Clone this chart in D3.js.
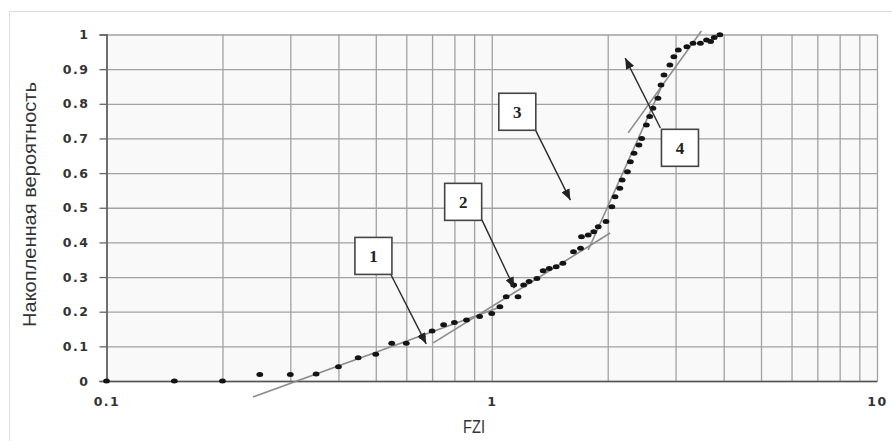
<!DOCTYPE html>
<html>
<head>
  <meta charset="utf-8" />
  <title>FZI probability plot</title>
  <script src="https://cdn.jsdelivr.net/npm/d3@7"></script>
  <style>
    body { margin: 0; background: #fff; }
    svg { display: block; }
    .tick-label { font-family: "DejaVu Sans", sans-serif; font-weight: bold; font-size: 12.5px; letter-spacing: 1.5px; fill: #333; }
    .title { font-family: "Liberation Sans", Arial, sans-serif; font-size: 18px; fill: #333; }
    .box-label { font-family: "Liberation Serif", "Times New Roman", serif; font-weight: bold; font-size: 17px; fill: #222; }
  </style>
</head>
<body>
  <svg id="chart" width="892" height="441"></svg>
  <script>
    // cumulative probability vs FZI
    const fzi = [0.1, 0.15, 0.2, 0.25, 0.3, 0.35, 0.4, 0.45, 0.5, 0.55, 0.6, 0.66, 0.7, 0.75, 0.8, 0.86, 0.93, 1.0,
      1.05, 1.09, 1.14, 1.17, 1.21, 1.25, 1.31, 1.36, 1.41, 1.47, 1.53, 1.63, 1.7, 1.71, 1.78, 1.84, 1.89, 1.98,
      2.05, 2.09, 2.15, 2.18, 2.25, 2.29, 2.34, 2.41, 2.45, 2.52, 2.57, 2.62, 2.7, 2.75, 2.8, 2.9, 2.97, 3.05,
      3.21, 3.33, 3.48, 3.61, 3.7, 3.78, 3.91];
    const prob = [0, 0, 0, 0.019, 0.019, 0.02, 0.041, 0.067, 0.077, 0.109, 0.109, 0.128, 0.144, 0.162, 0.169, 0.176, 0.186, 0.195,
      0.214, 0.243, 0.277, 0.243, 0.277, 0.287, 0.296, 0.318, 0.325, 0.33, 0.34, 0.373, 0.383, 0.416, 0.421, 0.431, 0.445, 0.46,
      0.503, 0.532, 0.556, 0.58, 0.604, 0.633, 0.657, 0.681, 0.7, 0.739, 0.763, 0.787, 0.816, 0.854, 0.883, 0.912, 0.936, 0.955,
      0.965, 0.975, 0.975, 0.984, 0.98, 0.991, 0.999];

    // straight line fits for the four flow units
    const fitFziStart = [0.24, 0.705, 1.78, 2.26];
    const fitProbStart = [-0.046, 0.11, 0.378, 0.716];
    const fitFziEnd = [1.052, 2.03, 2.77, 3.5];
    const fitProbEnd = [0.2136, 0.427, 0.854, 1.01];

    // numbered callouts
    const boxLabels = ["1", "2", "3", "4"];
    const boxFzi = [0.493, 0.843, 1.165, 3.08];
    const boxProb = [0.361, 0.517, 0.777, 0.673];
    const arrowFziFrom = [0.548, 0.943, 1.302, 2.74];
    const arrowProbFrom = [0.306, 0.465, 0.722, 0.73];
    const arrowFziTo = [0.676, 1.144, 1.6, 2.22];
    const arrowProbTo = [0.107, 0.268, 0.522, 0.932];

    const yTicks = [0, 0.1, 0.2, 0.3, 0.4, 0.5, 0.6, 0.7, 0.8, 0.9, 1];
    const yTickLabels = ["0", "0.1", "0.2", "0.3", "0.4", "0.5", "0.6", "0.7", "0.8", "0.9", "1"];
    const xLabelTicks = [0.1, 1, 10];
    const xTickLabels = ["0.1", "1", "10"];

    var margin = { top: 34.5, left: 106.5 },
      width = 770.5,
      height = 346.5;

    var root = d3.select("svg#chart");

    // outer frame
    root.append("rect")
      .attr("x", 9.5).attr("y", 11.5)
      .attr("width", 900).attr("height", 450)
      .attr("fill", "#fff").attr("stroke", "#dcdcdc");

    var svg = root.append("g")
      .attr("transform", "translate(" + margin.left + "," + margin.top + ")");

    var x = d3.scaleLog().domain([0.1, 10]).range([0, width]);
    var y = d3.scaleLinear().domain([0, 1]).range([height, 0]);

    svg.append("rect")
      .attr("width", width).attr("height", height)
      .attr("fill", "#f9f9f9");

    // vertical grid
    svg.append("g")
      .attr("transform", "translate(0," + height + ")")
      .call(d3.axisBottom(x).tickValues(x.ticks()).tickSize(-height).tickFormat(""))
      .call(g => g.select(".domain").remove())
      .selectAll("line").attr("stroke", "#a2a2a2").attr("stroke-width", 1.3);

    // horizontal grid + outside ticks
    svg.append("g")
      .call(d3.axisLeft(y).tickValues(yTicks).tickSizeInner(-width).tickSizeOuter(0).tickFormat(""))
      .call(g => g.select(".domain").remove())
      .selectAll("line").attr("stroke", "#a2a2a2").attr("stroke-width", 1.3);

    var yAxis = svg.append("g")
      .call(d3.axisLeft(y).tickValues(yTicks).tickSize(7).tickPadding(10)
        .tickFormat((d, i) => yTickLabels[i]));
    yAxis.select(".domain").attr("stroke", "#555").attr("stroke-width", 1.5);
    yAxis.selectAll("line").attr("stroke", "#666").attr("stroke-width", 1.3);
    yAxis.selectAll("text").attr("class", "tick-label").attr("font-size", null).attr("font-family", null);

    var xAxis = svg.append("g")
      .attr("transform", "translate(0," + height + ")")
      .call(d3.axisBottom(x).tickValues(xLabelTicks).tickSize(0).tickPadding(16)
        .tickFormat((d, i) => xTickLabels[i]));
    xAxis.select(".domain").attr("stroke", "#555").attr("stroke-width", 1.5);
    xAxis.selectAll("text").attr("class", "tick-label").attr("font-size", null).attr("font-family", null);

    // fit lines
    svg.selectAll("line.fit")
      .data(fitFziStart)
      .enter()
      .append("line")
      .attr("class", "fit")
      .attr("x1", (d, i) => x(fitFziStart[i]))
      .attr("y1", (d, i) => y(fitProbStart[i]))
      .attr("x2", (d, i) => x(fitFziEnd[i]))
      .attr("y2", (d, i) => y(fitProbEnd[i]))
      .attr("stroke", "#8c8c8c")
      .attr("stroke-width", 1.6);

    // data points
    svg.selectAll("ellipse.pt")
      .data(fzi)
      .enter()
      .append("ellipse")
      .attr("class", "pt")
      .attr("cx", (d) => x(d))
      .attr("cy", (d, i) => y(prob[i]))
      .attr("rx", 3.4)
      .attr("ry", 2.5)
      .attr("fill", "#141414");

    // arrows
    root.append("defs").append("marker")
      .attr("id", "head")
      .attr("markerUnits", "userSpaceOnUse")
      .attr("viewBox", "0 0 10 8")
      .attr("markerWidth", 11).attr("markerHeight", 9)
      .attr("refX", 10).attr("refY", 4)
      .attr("orient", "auto")
      .append("path").attr("d", "M0,0L10,4L0,8z").attr("fill", "#222");

    svg.selectAll("line.arrow")
      .data(arrowFziFrom)
      .enter()
      .append("line")
      .attr("class", "arrow")
      .attr("x1", (d) => x(d))
      .attr("y1", (d, i) => y(arrowProbFrom[i]))
      .attr("x2", (d, i) => x(arrowFziTo[i]))
      .attr("y2", (d, i) => y(arrowProbTo[i]))
      .attr("stroke", "#2a2a2a")
      .attr("stroke-width", 1.4)
      .attr("marker-end", "url(#head)");

    // boxes
    var boxes = svg.selectAll("g.box")
      .data(boxLabels)
      .enter()
      .append("g")
      .attr("class", "box")
      .attr("transform", (d, i) => "translate(" + x(boxFzi[i]) + "," + y(boxProb[i]) + ")");
    boxes.append("rect")
      .attr("x", -18.5).attr("y", -18.5)
      .attr("width", 37).attr("height", 37)
      .attr("fill", "#fff")
      .attr("stroke", "#444")
      .attr("stroke-width", 1.6);
    boxes.append("text")
      .attr("class", "box-label")
      .attr("text-anchor", "middle")
      .attr("dy", "0.35em")
      .text((d) => d);

    // axis titles
    root.append("text")
      .attr("class", "title")
      .attr("text-anchor", "middle")
      .attr("x", 474).attr("y", 433)
      .attr("textLength", 22).attr("lengthAdjust", "spacingAndGlyphs")
      .text("FZI");

    root.append("text")
      .attr("class", "title")
      .attr("text-anchor", "middle")
      .attr("transform", "translate(36,204.5) rotate(-90)")
      .attr("textLength", 245).attr("lengthAdjust", "spacingAndGlyphs")
      .text("Накопленная вероятность");
  </script>
</body>
</html>
